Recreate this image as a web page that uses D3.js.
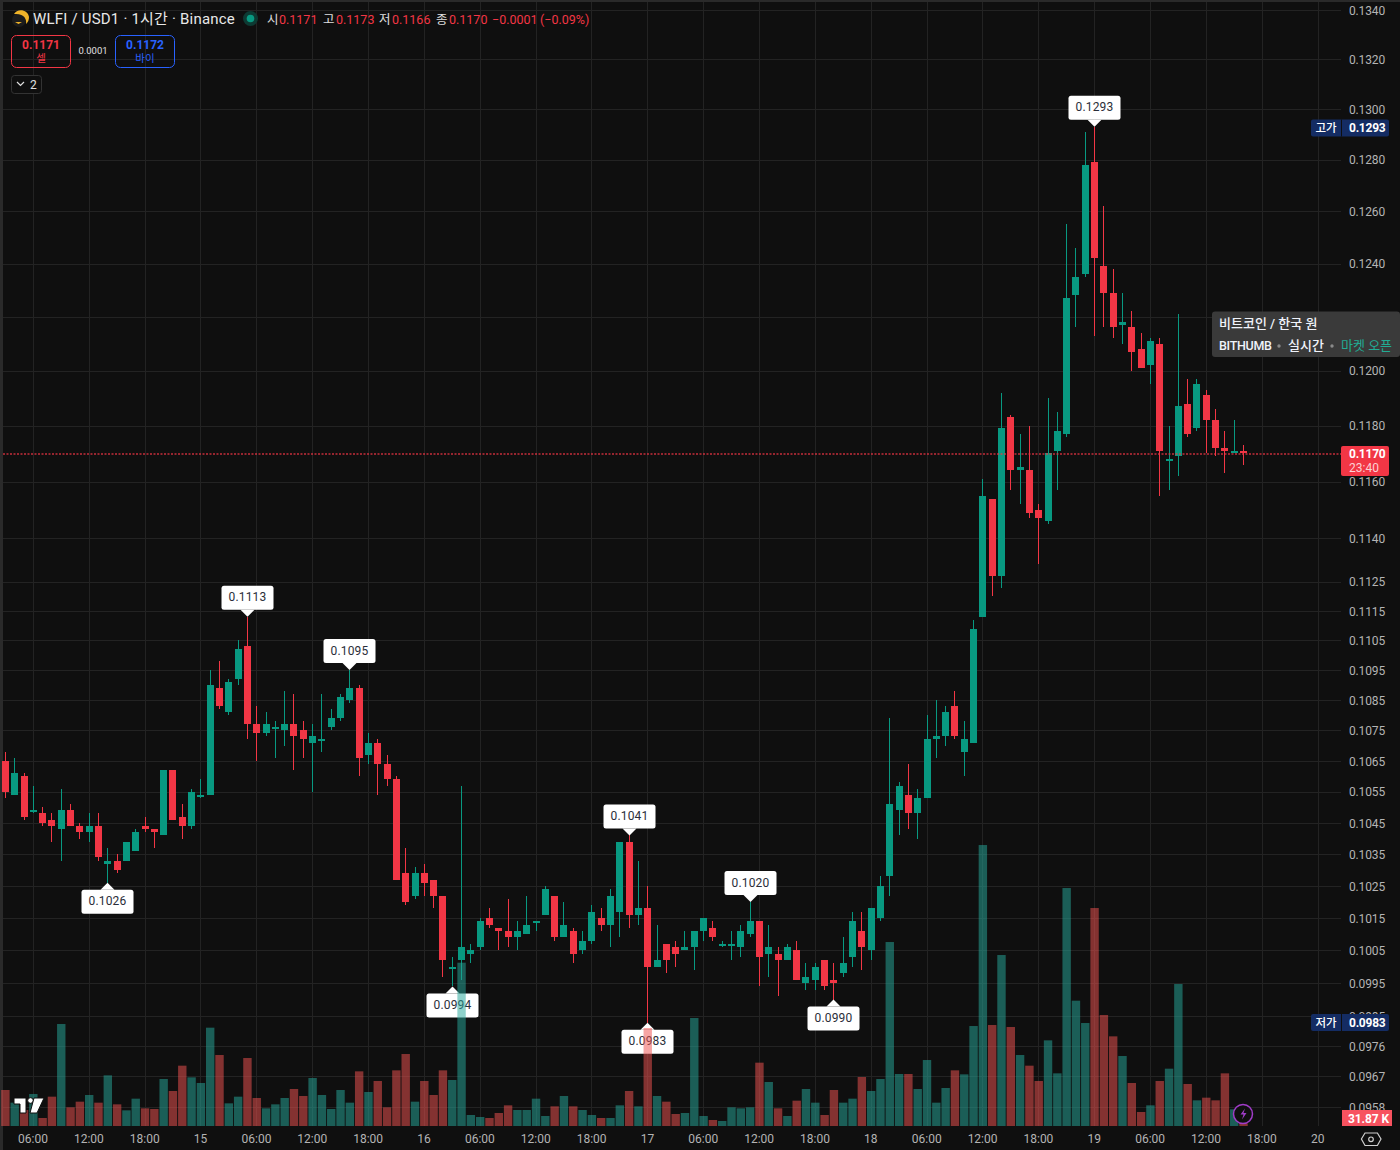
<!DOCTYPE html>
<html lang="ko">
<head>
<meta charset="utf-8">
<script src="https://cdn.jsdelivr.net/npm/d3@7"></script>
<style>
html,body{margin:0;padding:0;background:#0f0f0f;overflow:hidden}
svg{display:block;font-family:Roboto,"Noto Sans CJK KR",sans-serif}
.domain{display:none}
</style>
</head>
<body>
<svg id="c" width="1400" height="1150"></svg>
<script>
// Hourly bars, first bar = 14th 03:00
const opens=[.1065,.1054,.1060,.1049,.1048,.1046,.1043,.1049,.1044,.1042,
.1044,.1032,.1033,.1033,.1036,.1044,.1043,.1041,.1062,.1047,
.1044,.1054,.1054,.1089,.1081,.1092,.1103,.1077,.1074,.1076,
.1075,.1077,.1075,.1071,.1072,.1076,.1079,.1085,.1089,.1067,
.1071,.1064,.1059,.1029,.1022,.1029,.1027,.1022,.1000,.1002,
.1004,.1006,.1015,.1012,.1011,.1009,.1010,.1014,.1016,.1022,
.1009,.1011,.1005,.1008,.1015,.1013,.1017,.1039,.1016,.1018,
.1000,.1007,.1006,.1005,.1006,.1011,.1012,.1007,.1007,.1006,
.1010,.1014,.1004,.1004,.1002,.1005,.0995,.0996,.1002,.0996,
.0998,.1003,.1011,.1005,.1015,.1028,.1049,.1054,.1048,.1053,
.1072,.1073,.1083,.1068,.1071,.1113,.1154,.1127,.1183,.1164,
.1164,.1150,.1146,.1171,.1177,.1228,.1236,.1279,.1239,.1229,
.1217,.1216,.1208,.1202,.1210,.1168,.1169,.1188,.1179,.1191,
.1182,.1172,.1170,.1171];
const highs=[.1068,.1066,.1061,.1057,.1050,.1048,.1056,.1051,.1045,.1048,
.1048,.1037,.1035,.1039,.1043,.1047,.1043,.1062,.1062,.1051,
.1056,.1059,.1095,.1098,.1092,.1105,.1113,.1083,.1081,.1078,
.1088,.1087,.1078,.1077,.1087,.1082,.1087,.1095,.1090,.1074,
.1072,.1067,.1060,.1037,.1031,.1032,.1027,.1022,.1003,.1057,
.1007,.1015,.1018,.1012,.1021,.1014,.1022,.1014,.1025,.1022,
.1020,.1012,.1011,.1019,.1018,.1024,.1039,.1041,.1033,.1025,
.1013,.1007,.1008,.1011,.1011,.1015,.1014,.1008,.1011,.1013,
.1020,.1014,.1013,.1006,.1007,.1008,.1001,.1001,.1002,.1001,
.1009,.1017,.1017,.1018,.1028,.1079,.1058,.1064,.1056,.1080,
.1085,.1083,.1088,.1078,.1112,.1161,.1154,.1192,.1184,.1177,
.1180,.1152,.1190,.1185,.1255,.1246,.1291,.1293,.1262,.1238,
.1229,.1222,.1214,.1212,.1212,.1180,.1221,.1197,.1197,.1193,
.1186,.1178,.1182,.1173];
const lows=[.1053,.1054,.1046,.1048,.1044,.1039,.1033,.1044,.1040,.1039,
.1033,.1026,.1029,.1033,.1036,.1042,.1037,.1041,.1046,.1040,
.1043,.1053,.1054,.1082,.1080,.1090,.1072,.1065,.1073,.1066,
.1070,.1062,.1066,.1055,.1068,.1075,.1078,.1084,.1060,.1064,
.1054,.1057,.1027,.1019,.1021,.1022,.1018,.0997,.0994,.0996,
.1001,.1005,.1012,.1005,.1006,.1005,.1010,.1011,.1016,.1008,
.1009,.1001,.1004,.1007,.1011,.1006,.1009,.1012,.1013,.0983,
.1000,.0998,.1000,.1005,.0999,.1008,.1008,.1006,.1002,.1003,
.1009,.0994,.0997,.0991,.1002,.0996,.0993,.0993,.0993,.0990,
.0997,.1000,.0999,.1002,.1014,.1022,.1041,.1043,.1040,.1053,
.1066,.1070,.1072,.1060,.1071,.1113,.1120,.1123,.1157,.1152,
.1147,.1131,.1145,.1157,.1176,.1216,.1235,.1213,.1216,.1212,
.1210,.1200,.1201,.1195,.1155,.1157,.1162,.1176,.1178,.1170,
.1169,.1163,.1170,.1166];
const closes=[.1055,.1061,.1047,.1049,.1045,.1044,.1049,.1044,.1042,.1044,
.1034,.1033,.1030,.1039,.1042,.1043,.1042,.1062,.1046,.1044,
.1055,.1054,.1090,.1083,.1091,.1102,.1077,.1074,.1077,.1076,
.1077,.1073,.1072,.1073,.1072,.1079,.1086,.1089,.1066,.1071,
.1064,.1059,.1027,.1020,.1029,.1026,.1022,.1002,.1000,.1006,
.1005,.1014,.1013,.1011,.1009,.1011,.1013,.1014,.1024,.1009,
.1013,.1004,.1008,.1017,.1013,.1022,.1039,.1016,.1018,.1000,
.1002,.1002,.1004,.1006,.1011,.1015,.1009,.1007,.1007,.1011,
.1014,.1003,.1006,.1002,.1006,.0996,.0997,.1000,.0994,.0995,
.1001,.1014,.1006,.1018,.1025,.1051,.1057,.1048,.1053,.1072,
.1073,.1081,.1073,.1072,.1109,.1155,.1127,.1179,.1164,.1165,
.1149,.1147,.1170,.1178,.1227,.1235,.1278,.1242,.1229,.1216,
.1218,.1207,.1201,.1211,.1171,.1168,.1187,.1177,.1195,.1182,
.1172,.1171,.1171,.1170];
// Volume in thousands
const volumes=[432,280,192,384,96,352,1224,224,292,372,
280,608,260,188,328,212,204,564,420,724,
584,516,1180,852,272,352,816,336,212,260,
336,444,360,576,372,204,432,280,656,408,
540,224,668,864,292,540,372,668,552,1960,
132,108,96,156,248,192,192,328,120,236,
360,236,192,132,96,96,248,420,236,1176,
360,292,144,156,1296,120,72,60,224,212,
224,760,528,212,120,304,444,280,132,432,
280,328,588,420,564,2208,624,624,444,792,
280,456,668,620,1200,3372,1212,2052,1188,852,
724,540,1028,632,2856,1504,1236,2616,1332,1076,
840,516,168,248,540,688,1704,504,308,340,
308,632,200,31.87];
const priceTicks=[.1340,.1320,.1300,.1280,.1260,.1240,.1220,.1200,.1180,.1160,.1140,.1125,.1115,.1105,.1095,.1085,.1075,.1065,.1055,.1045,.1035,.1025,.1015,.1005,.0995,.0985,.0976,.0967,.0958];
const timeTickBars=[3,9,15,21,27,33,39,45,51,57,63,69,75,81,87,93,99,105,111,117,123,129,135,141];
const timeTickLabels=['06:00','12:00','18:00','15','06:00','12:00','18:00','16','06:00','12:00','18:00','17','06:00','12:00','18:00','18','06:00','12:00','18:00','19','06:00','12:00','18:00','20'];
const highMarks=[26,37,67,80,117];
const lowMarks=[11,48,69,89];
const lastPrice=.1170, dayHigh=.1293, dayLow=.0983;

const UP='#089981',DOWN='#F23645';
const svg=d3.select('#c');
const x=d3.scaleLinear().domain([0,141]).range([5.4,1318]);
const y=d3.scaleLog().domain([.134,.0958]).range([10,1107]);
const v=d3.scaleLinear().domain([0,4000]).range([1126,792.7]);
const f4=d3.format('.4f');
const bars=opens.map((o,i)=>({i,o,h:highs[i],l:lows[i],c:closes[i],vol:volumes[i],up:closes[i]>=o}));

svg.append('rect').attr('width',1400).attr('height',1150).attr('fill','#0f0f0f');
svg.append('rect').attr('width',3).attr('height',1150).attr('fill','#2a2a2a');
svg.append('rect').attr('width',1400).attr('height',2).attr('fill','#2a2a2a');

// grid
const grid=svg.append('g').attr('stroke','#232323').attr('stroke-width',1).attr('shape-rendering','crispEdges');
grid.selectAll('line.h').data(priceTicks).join(e=>e.append('line').attr('class','h')).attr('x1',3).attr('x2',1341)
  .attr('y1',d=>Math.round(y(d))+.5).attr('y2',d=>Math.round(y(d))+.5);
grid.selectAll('line.v').data(timeTickBars).join(e=>e.append('line').attr('class','v')).attr('y1',2).attr('y2',1126)
  .attr('x1',d=>Math.floor(x(d))+.5).attr('x2',d=>Math.floor(x(d))+.5);

// axes
const yAxis=d3.axisRight(y).tickValues(priceTicks).tickFormat(f4).tickSize(0).tickPadding(0);
const yG=svg.append('g').attr('transform','translate(1349,0.4)').call(yAxis);
yG.selectAll('text').attr('fill','#b4b4b4').attr('font-size',12).attr('letter-spacing','-.15px')
  .attr('font-family','Roboto,"Noto Sans CJK KR",sans-serif');
const xAxis=d3.axisBottom(x).tickValues(timeTickBars).tickFormat((d,i)=>timeTickLabels[i]).tickSize(0).tickPadding(0);
const xG=svg.append('g').attr('transform','translate(-0.8,1134)').call(xAxis);
xG.selectAll('text').attr('fill','#b4b4b4').attr('font-size',12)
  .attr('font-family','Roboto,"Noto Sans CJK KR",sans-serif');

// candles
const cg=svg.append('g').attr('shape-rendering','crispEdges');
const col=d=>d.up?UP:DOWN;
cg.selectAll('rect.w').data(bars).join(e=>e.append('rect').attr('class','w')).attr('x',d=>Math.floor(x(d.i))).attr('width',1)
  .attr('y',d=>y(d.h)).attr('height',d=>y(d.l)-y(d.h)).attr('fill',col);
cg.selectAll('rect.b').data(bars).join(e=>e.append('rect').attr('class','b')).attr('x',d=>Math.floor(x(d.i))-3).attr('width',7)
  .attr('y',d=>Math.min(y(d.o),y(d.c)))
  .attr('height',d=>Math.max(2,Math.abs(y(d.o)-y(d.c)))).attr('fill',col);

// peak markers
function marker(i,price,above){
  const g=svg.append('g'),cx=Math.floor(x(i))+.5,py=y(price);
  const w=52,h=24,gap=7,bw=7;
  const by=above?py-gap-h:py+gap;
  const edge=above?by+h:by;
  g.append('rect').attr('x',cx-w/2).attr('y',by).attr('width',w).attr('height',h).attr('rx',2.5).attr('fill','#fff');
  g.append('path').attr('d',`M${cx-bw} ${edge}L${cx} ${py}L${cx+bw} ${edge}Z`).attr('fill','#fff');
  g.append('text').attr('x',cx).attr('y',by+h/2+3.5).attr('text-anchor','middle').attr('font-size',12)
    .attr('letter-spacing','.15px').attr('fill','#2a2e39').text(f4(price));
}
highMarks.forEach(i=>marker(i,highs[i],true));
lowMarks.forEach(i=>marker(i,lows[i],false));

// volume, translucent and on top
svg.append('g').selectAll('rect').data(bars).join('rect')
  .attr('x',d=>x(d.i)-4.2).attr('width',8.4)
  .attr('y',d=>v(d.vol)).attr('height',d=>1126-v(d.vol))
  .attr('fill',d=>d.up?'rgba(38,166,154,.52)':'rgba(239,83,80,.52)');

// last price line
svg.append('line').attr('x1',3).attr('x2',1341).attr('y1',y(lastPrice)+.5).attr('y2',y(lastPrice)+.5)
  .attr('stroke',DOWN).attr('stroke-width',1.6).attr('stroke-dasharray','2 1.5').attr('opacity',.8);

// price tags
function tag(label,price,ty){
  const g=svg.append('g');
  g.append('rect').attr('x',1311).attr('y',ty).attr('width',78).attr('height',17).attr('rx',2).attr('fill','#142c63');
  g.append('rect').attr('x',1341).attr('y',ty).attr('width',1).attr('height',17).attr('fill','#0f0f0f');
  g.append('text').attr('x',1326).attr('y',ty+12.5).attr('text-anchor','middle').attr('font-size',11.5).attr('font-weight',500).attr('fill','#fff').text(label);
  g.append('text').attr('x',1349).attr('y',ty+12.5).attr('font-size',12).attr('font-weight',700).attr('letter-spacing','-.25px').attr('fill','#fff').text(f4(price));
}
tag('고가',dayHigh,119.5);
tag('저가',dayLow,1014);

svg.append('rect').attr('x',1341).attr('y',446).attr('width',48).attr('height',30).attr('rx',2).attr('fill',DOWN);
svg.append('text').attr('x',1349).attr('y',458).attr('font-size',12).attr('font-weight',700).attr('letter-spacing','-.25px').attr('fill','#fff').text(f4(lastPrice));
svg.append('text').attr('x',1349).attr('y',472).attr('font-size',12).attr('fill','#fbd0d4').text('23:40');

svg.append('rect').attr('x',1342).attr('y',1110).attr('width',50).attr('height',16).attr('fill','#f7525f');
svg.append('text').attr('x',1348).attr('y',1123).attr('font-size',12).attr('font-weight',700).attr('letter-spacing','-.1px').attr('fill','#fff').text('31.87 K');

// market tooltip
const tip=svg.append('g');
tip.append('rect').attr('x',1212).attr('y',311.5).attr('width',188).attr('height',45.5).attr('rx',3).attr('fill','#3a3a3a');
tip.append('text').attr('x',1219).attr('y',328).attr('font-size',13).attr('font-weight',500).attr('fill','#f0f3fa').text('비트코인 / 한국 원');
tip.append('text').attr('x',1219).attr('y',350).attr('font-size',12.5).attr('font-weight',500).attr('letter-spacing','-.3px').attr('fill','#f0f3fa').text('BITHUMB');
tip.append('circle').attr('cx',1279).attr('cy',346).attr('r',1.7).attr('fill','#8a8a8a');
tip.append('text').attr('x',1288).attr('y',350).attr('font-size',13).attr('font-weight',500).attr('fill','#f0f3fa').text('실시간');
tip.append('circle').attr('cx',1332).attr('cy',346).attr('r',1.7).attr('fill','#8a8a8a');
tip.append('text').attr('x',1341).attr('y',350).attr('font-size',13).attr('fill','#22ab94').text('마켓 오픈');

// header
svg.append('circle').attr('cx',19).attr('cy',20).attr('r',7).attr('fill','#1c1c1c');
svg.append('path').attr('d','M14 14C17 8 28 9 29 17C29 20 28 22 26 24C27 19 24 13 14 14Z').attr('fill','#f0b429');
svg.append('path').attr('d','M15 22h7l-3.5 2z').attr('fill','#f0b429');
svg.append('text').attr('x',33).attr('y',24).attr('font-size',15).attr('letter-spacing','.2px').attr('fill','#e8e8e8').text('WLFI / USD1 · 1시간 · Binance');
svg.append('circle').attr('cx',250.5).attr('cy',18.5).attr('r',7.5).attr('fill','#0d3a33');
svg.append('circle').attr('cx',250.5).attr('cy',18.5).attr('r',3.8).attr('fill',UP);
const ohlc=svg.append('text').attr('y',24).attr('font-size',12.5);
[['시',267,'#e0e0e0'],['0.1171',279,DOWN],['고',323,'#e0e0e0'],['0.1173',336,DOWN],['저',379,'#e0e0e0'],['0.1166',392,DOWN],['종',436,'#e0e0e0'],['0.1170',449,DOWN],['−0.0001',492,DOWN],['(−0.09%)',540,DOWN]]
 .forEach(p=>ohlc.append('tspan').attr('x',p[1]).attr('fill',p[2]).text(p[0]));

// sell / buy
function tradeBox(bx,color,price,label){
  svg.append('rect').attr('x',bx+.5).attr('y',35.5).attr('width',59).attr('height',32).attr('rx',5).attr('fill','none').attr('stroke',color);
  svg.append('text').attr('x',bx+30).attr('y',48.5).attr('text-anchor','middle').attr('font-size',12).attr('font-weight',700).attr('fill',color).text(price);
  svg.append('text').attr('x',bx+30).attr('y',62).attr('text-anchor','middle').attr('font-size',10.5).attr('fill',color).text(label);
}
tradeBox(11,DOWN,'0.1171','셀');
tradeBox(115,'#2962ff','0.1172','바이');
svg.append('text').attr('x',93).attr('y',54).attr('text-anchor','middle').attr('font-size',9.5).attr('fill','#e0e0e0').text('0.0001');
svg.append('rect').attr('x',11.5).attr('y',75.5).attr('width',30).attr('height',18).attr('rx',3).attr('fill','#0f0f0f').attr('stroke','#333');
svg.append('path').attr('d','M17 82l3.5 3.5l3.5-3.5').attr('fill','none').attr('stroke','#e0e0e0').attr('stroke-width',1.2);
svg.append('text').attr('x',30).attr('y',89).attr('font-size',12).attr('fill','#e0e0e0').text('2');

// logo, lightning, settings
const logo=svg.append('g').attr('fill','#fff').attr('stroke','#0f0f0f').attr('stroke-width',1);
logo.append('path').attr('d','M14 1098h12v15h-6v-9h-6z');
logo.append('circle').attr('cx',30.5).attr('cy',1100.5).attr('r',2.8);
logo.append('path').attr('d','M34 1098h10l-7 15h-7z');
svg.append('circle').attr('cx',1243).attr('cy',1114).attr('r',9.5).attr('fill','#0f0f0f').attr('stroke','#a03cc8').attr('stroke-width',1.5);
svg.append('path').attr('d','M1245 1108.5l-4.5 6h3l-1.5 5l4.5-6.5h-3z').attr('fill','#a03cc8');
svg.append('path').attr('d','M1365 1133h12.4l3.6 6l-3.6 6.5h-12.4l-3.6-6.5z').attr('fill','none').attr('stroke','#d0d0d0').attr('stroke-width',1.2);
svg.append('circle').attr('cx',1371).attr('cy',1139.3).attr('r',2.3).attr('fill','none').attr('stroke','#d0d0d0').attr('stroke-width',1.2);
</script>
</body>
</html>
